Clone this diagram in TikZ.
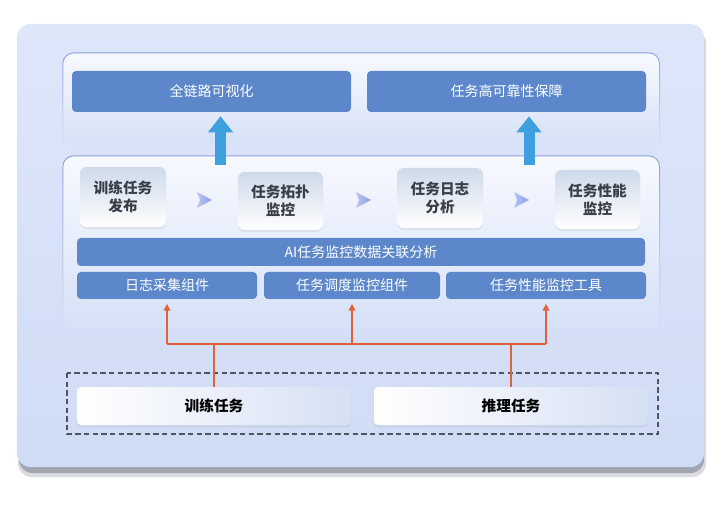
\documentclass[tikz,border=0pt]{standalone}
\usepackage{fontspec}
\setmainfont{Noto Sans CJK SC}
\usetikzlibrary{fit,arrows.meta,shadows,fadings}
\definecolor{outertop}{RGB}{222,230,250}
\definecolor{outerbot}{RGB}{208,220,245}
\definecolor{outerbg}{RGB}{214,225,247}
\definecolor{shadowgray}{RGB}{150,155,166}
\definecolor{paneltop}{RGB}{247,249,255}
\definecolor{panelborder}{RGB}{140,160,222}
\definecolor{boxblue}{RGB}{92,136,203}
\definecolor{arrowblue}{RGB}{62,160,222}
\definecolor{orangeline}{RGB}{226,96,58}
\definecolor{steptop}{RGB}{206,218,234}
\definecolor{steptext}{RGB}{58,62,72}
\definecolor{chevcol}{RGB}{140,158,232}
\definecolor{taskright}{RGB}{214,224,244}
\definecolor{dashcol}{RGB}{78,84,96}
\begin{document}
\begin{tikzpicture}[x=0.75pt,y=-0.75pt,
  bluebox/.style={fill=boxblue, rounded corners=3pt, inner sep=0pt},
  bluetext/.style={text=white, font=\fontsize{10.5}{12}\selectfont},
  stepbox/.style={top color=steptop, bottom color=white, rounded corners=5pt, inner sep=0pt,
    drop shadow={opacity=0.12, shadow xshift=0pt, shadow yshift=-1.5pt}},
  steptxt/.style={align=center, text=steptext, font=\fontsize{11}{13.5}\selectfont\bfseries},
  taskbox/.style={left color=white, right color=taskright, rounded corners=3pt, inner sep=0pt,
    drop shadow={opacity=0.10, shadow xshift=0pt, shadow yshift=-2pt}},
  tasktxt/.style={text=black, font=\fontsize{11}{13}\selectfont\bfseries},
  bigarrow/.style={draw=arrowblue, line width=8.25pt,
    -{Triangle[length=12pt,width=18pt]}},
  oline/.style={draw=orangeline, line width=1.1pt},
  oarrow/.style={oline, -{Triangle[length=5pt,width=5pt]}},
  chev/.style={left color=chevcol!60!white, right color=chevcol}
]
\useasboundingbox (0,0) rectangle (720,505);

% outer panel with shadow
\fill[shadowgray, opacity=0.35, rounded corners=10pt] (18,30) rectangle (706,477);
\fill[shadowgray, opacity=0.85, rounded corners=10pt] (19,29) rectangle (704,473);
\shade[top color=outertop, bottom color=outerbot, rounded corners=10pt] (17,24) rectangle (704,467);

% top panel
\shade[top color=paneltop, bottom color=outerbg, rounded corners=8pt] (63,53) rectangle (660,145);
\draw[panelborder, line width=0.7pt, rounded corners=8pt, path fading=south] (63,145) -- (63,53) -- (660,53) -- (660,145);

% middle panel
\shade[top color=paneltop, bottom color=outerbg, rounded corners=8pt] (63,156) rectangle (660,330);
\draw[panelborder, line width=0.7pt, rounded corners=8pt, path fading=south] (63,330) -- (63,156) -- (660,156) -- (660,330);

% top boxes
\node[bluebox, fit={(72,71)(351,112)}] (t1) {};
\node[bluetext] at (t1.center) {全链路可视化};
\node[bluebox, fit={(367,71)(646,112)}] (t2) {};
\node[bluetext] at (t2.center) {任务高可靠性保障};

% step boxes
\node[stepbox, fit={(80,167)(166,227)}] (s1) {};
\node[steptxt] at (s1.center) {训练任务\\发布};
\node[stepbox, fit={(238,172)(323,230)}] (s2) {};
\node[steptxt] at (s2.center) {任务拓扑\\监控};
\node[stepbox, fit={(397,168)(483,228)}] (s3) {};
\node[steptxt] at (s3.center) {任务日志\\分析};
\node[stepbox, fit={(555,170)(640,229)}] (s4) {};
\node[steptxt] at (s4.center) {任务性能\\监控};

% chevrons
\shade[chev] (197,192) -- (212,200) -- (197,208) -- (200,200) -- cycle;
\shade[chev] (356,192) -- (371,200) -- (356,208) -- (359,200) -- cycle;
\shade[chev] (514,192) -- (529,200) -- (514,208) -- (517,200) -- cycle;

% AI bar and components
\node[bluebox, fit={(77,238)(645,266)}] (ai) {};
\node[bluetext] at (ai.center) {AI任务监控数据关联分析};
\node[bluebox, fit={(77,272)(257,299)}] (c1) {};
\node[bluetext] at (c1.center) {日志采集组件};
\node[bluebox, fit={(264,272)(440,299)}] (c2) {};
\node[bluetext] at (c2.center) {任务调度监控组件};
\node[bluebox, fit={(446,272)(646,299)}] (c3) {};
\node[bluetext] at (c3.center) {任务性能监控工具};

% big blue arrows
\coordinate (a1) at (220.5,165);
\coordinate (a2) at (529,165);
\draw[bigarrow, shorten >=3pt] (a1) -- (t1.south -| a1);
\draw[bigarrow, shorten >=3pt] (a2) -- (t2.south -| a2);

% dashed group and tasks
\draw[dashcol, line width=0.8pt, dash pattern=on 4pt off 2.5pt] (67,373) rectangle (658,434);
\node[taskbox, fit={(77,387)(351,425)}] (train) {};
\node[tasktxt] at (train.center) {训练任务};
\node[taskbox, fit={(374,387)(648,425)}] (infer) {};
\node[tasktxt] at (infer.center) {推理任务};

% orange connectors
\coordinate (bus) at (0,344);
\draw[oline] (train.north) -- (train.north |- bus);
\draw[oline] (infer.north) -- (infer.north |- bus);
\draw[oline] (c1.south |- bus) -- (c3.south |- bus);
\draw[oarrow, shorten >=3.5pt] (c1.south |- bus) -- (c1.south);
\draw[oarrow, shorten >=3.5pt] (c2.south |- bus) -- (c2.south);
\draw[oarrow, shorten >=3.5pt] (c3.south |- bus) -- (c3.south);
\end{tikzpicture}
\end{document}
